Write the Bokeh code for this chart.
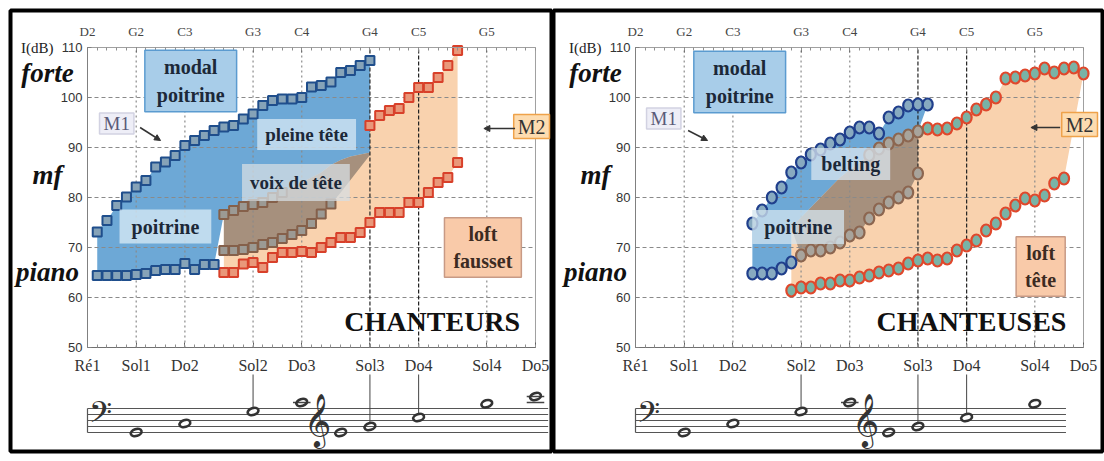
from bokeh.plotting import figure
from bokeh.models import FixedTicker, LinearAxis, Range1d, Label, Arrow, NormalHead
from bokeh.layouts import row
from bokeh.embed import file_html
from bokeh.resources import INLINE
from bokeh.core.properties import value

SERIF = "Liberation Serif"
SANS = "Liberation Sans"

# ---------------- axes / ticks ----------------
X_LO, X_HI = 38, 84
DB_LO, DB_HI = 50, 110
semitone_ticks = list(range(38, 85))
note_ticks = [38, 43, 48, 55, 60, 67, 72, 79, 84]
english_labels = ["D2", "G2", "C3", "G3", "C4", "G4", "C5", "G5"]
french_labels = ["Ré1", "Sol1", "Do2", "Sol2", "Do3", "Sol3", "Do4", "Sol4", "Do5"]
db_ticks = [50, 60, 70, 80, 90, 100, 110]
db_grid = [60, 70, 80, 90, 100]
dotted_grid_notes = [43, 48, 55, 60, 79]
dark_grid_notes = [67, 72]
dyn_names = ["forte", "mf", "piano"]
dyn_db = [105.0, 84.6, 65.2]

# ---------------- CHANTEURS (men) ----------------
men_m1_forte_x = [39, 40, 41, 42, 43, 44, 45, 46, 47, 48, 49, 50, 51, 52, 53, 54, 55, 56, 57, 58, 59, 60, 61, 62, 63, 64, 65, 66, 67]
men_m1_forte_db = [73.1, 75.4, 78.4, 80.1, 82.1, 83.4, 86.1, 87.1, 88.4, 90.4, 91.4, 92.4, 93.4, 94.1, 94.4, 95.7, 96.7, 98.4, 99.4, 99.7, 99.7, 100.0, 102.1, 102.4, 103.1, 105.0, 105.4, 106.4, 107.4]
men_m1_piano_x = [39, 40, 41, 42, 43, 44, 45, 46, 47, 48, 49, 50, 51]
men_m1_piano_db = [64.4, 64.4, 64.4, 64.4, 64.6, 64.8, 65.4, 65.6, 65.6, 66.8, 65.6, 66.6, 66.6]
men_head_hi_x = [52, 53, 54, 55, 56, 57, 58, 59, 60, 61, 62, 63, 64, 65, 66, 67]
men_head_hi_db = [76.6, 77.4, 78.2, 78.6, 79.0, 80.0, 81.0, 82.0, 83.0, 84.0, 85.0, 86.5, 87.5, 88.2, 88.6, 89.0]
men_head_lo_x = [52, 53, 54, 55, 56, 57, 58, 59, 60, 61, 62, 63, 64, 65, 66, 67]
men_head_lo_db = [69.4, 69.4, 69.6, 70.0, 70.6, 71.0, 71.8, 72.6, 73.4, 74.8, 76.7, 78.7, 81.0, 83.5, 86.0, 88.5]
men_m2_piano_x = [52, 53, 54, 55, 56, 57, 58, 59, 60, 61, 62, 63, 64, 65, 66, 67, 68, 69, 70, 71, 72, 73, 74, 75, 76]
men_m2_piano_db = [65.0, 65.0, 66.7, 67.0, 66.0, 68.0, 69.0, 69.0, 69.2, 69.0, 70.0, 71.0, 72.0, 72.0, 73.0, 75.0, 77.0, 77.0, 77.0, 79.0, 79.0, 81.0, 83.0, 84.0, 87.0]
men_m2_forte_x = [67, 68, 69, 70, 71, 72, 73, 74, 75, 76]
men_m2_forte_db = [94.4, 96.4, 97.4, 97.8, 100.0, 102.0, 102.0, 104.0, 106.4, 109.4]

# ---------------- CHANTEUSES (women) ----------------
women_m1_forte_x = [50, 51, 52, 53, 54, 55, 56, 57, 58, 59, 60, 61, 62, 63, 64, 65, 66, 67, 68]
women_m1_forte_db = [74.8, 77.4, 80.0, 82.0, 85.0, 87.0, 88.6, 89.6, 90.8, 91.6, 93.0, 94.0, 94.0, 92.8, 96.0, 97.0, 98.4, 98.6, 98.6]
women_m1_piano_x = [50, 51, 52, 53, 54]
women_m1_piano_db = [64.8, 64.8, 64.8, 65.8, 67.0]
women_mix_hi_x = [54, 55, 56, 57, 58, 59, 60, 61, 62, 63, 64, 65, 66, 67]
women_mix_hi_db = [74.0, 76.0, 78.0, 80.0, 82.0, 84.0, 85.5, 87.0, 88.5, 89.8, 90.8, 91.6, 92.4, 93.2]
women_mix_lo_x = [55, 56, 57, 58, 59, 60, 61, 62, 63, 64, 65, 66, 67]
women_mix_lo_db = [68.4, 69.4, 69.4, 70.0, 71.0, 72.4, 73.0, 75.8, 77.6, 79.0, 80.0, 81.0, 84.8]
women_m2_piano_x = [54, 55, 56, 57, 58, 59, 60, 61, 62, 63, 64, 65, 66, 67, 68, 69, 70, 71, 72, 73, 74, 75, 76, 77, 78, 79, 80, 81, 82]
women_m2_piano_db = [61.4, 62.0, 62.0, 62.8, 62.8, 63.4, 63.4, 64.0, 64.4, 65.0, 65.4, 65.8, 66.8, 67.4, 67.8, 67.4, 67.8, 69.4, 70.4, 71.4, 73.4, 74.8, 76.8, 78.4, 79.8, 79.4, 80.4, 82.8, 83.8]
women_m2_forte_x = [68, 69, 70, 71, 72, 73, 74, 75, 76, 77, 78, 79, 80, 81, 82, 83, 84]
women_m2_forte_db = [93.8, 93.6, 93.8, 94.8, 96.0, 97.6, 98.6, 100.0, 103.8, 104.0, 104.4, 104.8, 105.8, 105.0, 105.8, 106.0, 104.8]

# ---------------- staff (music notation) ----------------
staff_lines = [0, 1, 2, 3, 4]
men_staff_end = 85.3
women_staff_end = 82.2
men_note_x = [43, 48, 55, 60, 64, 67, 72, 79, 84]
men_note_pos = [0.0, 1.5, 3.5, 5.0, 0.0, 1.0, 2.5, 4.8, 6.0]
men_ledger_x = [60, 84, 84]
men_ledger_pos = [5, 5, 6]
women_note_x = [43, 48, 55, 60, 64, 67, 72, 79]
women_note_pos = [0.0, 1.5, 3.5, 5.0, 0.0, 1.0, 2.5, 4.8]
women_ledger_x = [60]
women_ledger_pos = [5]
link_x = [55, 67, 72]
link_pos = [3.5, 1.0, 2.5]
clef_x = [39.3, 61.6]
clef_pos = [2.8, 2.1]
clef_text = ["\U0001D122", "\U0001D11E"]

# layout of the staff inside each panel (in dB units of the panel's y scale)
STAFF_BASE, STAFF_STEP = 33.0, 1.2
LINK_TOP = 44.6


def sy(vals):
    return [STAFF_BASE + STAFF_STEP * v for v in vals]


def build_panel(W, mb_l, mb_r, x_start, x_end):
    p = figure(width=W, height=461, x_range=Range1d(x_start, x_end), y_range=Range1d(29.2, 117.4),
               min_border_left=mb_l, min_border_right=mb_r, min_border_top=10, min_border_bottom=10,
               x_axis_location=None, y_axis_location=None, output_backend="svg", toolbar_location=None)
    p.grid.visible = False
    p.background_fill_color = "white"
    p.border_fill_color = "white"
    p.outline_line_color = "black"
    p.outline_line_width = 4

    ya = LinearAxis(ticker=FixedTicker(ticks=db_ticks), fixed_location=X_LO, bounds=(DB_LO, DB_HI),
                    major_label_text_font=SANS, major_label_text_font_size="13px",
                    major_label_text_color="#333333", axis_line_color="#808080",
                    major_tick_in=4, major_tick_out=0, minor_tick_line_color=None,
                    major_tick_line_color="#808080", major_label_standoff=5)
    p.add_layout(ya, "left")
    top = LinearAxis(ticker=FixedTicker(ticks=note_ticks[:-1], minor_ticks=semitone_ticks),
                     fixed_location=DB_HI, bounds=(X_LO, X_HI),
                     major_label_overrides={t: s for t, s in zip(note_ticks[:-1], english_labels)},
                     major_label_text_font=SERIF, major_label_text_font_size="13px",
                     major_label_text_color="#444444", major_label_standoff=9,
                     major_tick_in=5, major_tick_out=0, minor_tick_in=3, minor_tick_out=0,
                     axis_line_color="#a0a0a0", major_tick_line_color="#707070",
                     minor_tick_line_color="#909090")
    p.add_layout(top, "above")
    bot = LinearAxis(ticker=FixedTicker(ticks=note_ticks, minor_ticks=semitone_ticks),
                     fixed_location=DB_LO, bounds=(X_LO, X_HI),
                     major_label_overrides={t: s for t, s in zip(note_ticks, french_labels)},
                     major_label_text_font=SERIF, major_label_text_font_size="16px",
                     major_label_text_color="#333333", major_label_standoff=9,
                     major_tick_in=5, major_tick_out=0, minor_tick_in=3, minor_tick_out=0,
                     axis_line_color="#707070", major_tick_line_color="#606060",
                     minor_tick_line_color="#909090")
    p.add_layout(bot, "below")

    p.add_layout(Label(x=34.5, y=DB_HI, text="I(dB)", text_font=SERIF, text_font_size="15px",
                       text_color="#222222", text_align="right", text_baseline="middle"))
    for name, yv in zip(dyn_names, dyn_db):
        p.add_layout(Label(x=33.9, y=yv, text=name, text_font=SERIF, text_font_size="27px",
                           text_font_style="bold italic", text_color="#111111",
                           text_align="center", text_baseline="middle"))
    return p


def grid_and_frame(p):
    n = len(db_grid)
    p.segment(x0=[X_LO] * n, y0=db_grid, x1=[X_HI] * n, y1=db_grid,
              line_color="#8a8a8a", line_dash="4 3", line_width=1)
    m = len(dotted_grid_notes)
    p.segment(x0=dotted_grid_notes, y0=[DB_LO] * m, x1=dotted_grid_notes, y1=[DB_HI] * m,
              line_color="#8a8a8a", line_dash="2 3", line_width=1.2)
    k = len(dark_grid_notes)
    p.segment(x0=dark_grid_notes, y0=[DB_LO] * k, x1=dark_grid_notes, y1=[DB_HI] * k,
              line_color="#222222", line_dash="4 2", line_width=1.2)
    p.segment(x0=[X_HI], y0=[DB_LO], x1=[X_HI], y1=[DB_HI], line_color="#a0a0a0", line_width=1)


def box_label(p, x, y, text, fill, alpha=1.0, border=None, color="#1c2838", size="20px",
              style="bold", pad=(8, 4), lh=1.2):
    p.add_layout(Label(x=x, y=y, text=text, text_font=SERIF, text_font_size=size, text_font_style=style,
                       text_color=color, text_align="center", text_baseline="middle", text_line_height=lh,
                       background_fill_color=fill, background_fill_alpha=alpha,
                       border_line_color=border, border_line_width=1.5, padding=pad))


def arrow(p, xs, ys, xe, ye):
    p.add_layout(Arrow(x_start=xs, y_start=ys, x_end=xe, y_end=ye, line_color="#333333", line_width=1.5,
                       end=NormalHead(size=6, fill_color="#333333", line_color="#333333")))


def draw_staff(p, staff_end, nx, npos, lx, lpos):
    ns = len(staff_lines)
    p.segment(x0=[X_LO] * ns, y0=sy(staff_lines), x1=[staff_end] * ns, y1=sy(staff_lines),
              line_color="#555555", line_width=1)
    p.segment(x0=[X_LO], y0=sy(staff_lines[:1]), x1=[X_LO], y1=sy(staff_lines[-1:]),
              line_color="#555555", line_width=1.2)
    p.segment(x0=[v - 0.9 for v in lx], y0=sy(lpos), x1=[v + 0.9 for v in lx], y1=sy(lpos),
              line_color="#444444", line_width=1.3)
    p.segment(x0=link_x, y0=[LINK_TOP] * len(link_x), x1=link_x, y1=sy([v + 0.6 for v in link_pos]),
              line_color="#444444", line_width=1)
    p.ellipse(x=nx, y=sy(npos), width=11, height=7, width_units="screen", height_units="screen", angle=0.3,
              fill_color=None, line_color="#333333", line_width=2.6)
    p.text(x=clef_x[:1], y=sy(clef_pos[:1]), text=clef_text[:1], text_font=value("DejaVu Sans"),
           text_font_size="36px", text_align="center", text_baseline="middle", text_color="#333333")
    p.text(x=clef_x[1:], y=sy(clef_pos[1:]), text=clef_text[1:], text_font=value("DejaVu Sans"),
           text_font_size="46px", text_align="center", text_baseline="middle", text_color="#333333")


# ======================= LEFT PANEL =======================
p1 = build_panel(552, 10, 1, 30.094, 85.643)
p1.patch(men_m2_piano_x + men_m2_forte_x[::-1] + men_head_hi_x[::-1],
         men_m2_piano_db + men_m2_forte_db[::-1] + men_head_hi_db[::-1],
         fill_color="#f9d2ae", fill_alpha=1.0, line_color=None)
p1.patch(men_m1_forte_x + men_head_hi_x[::-1] + men_m1_piano_x[::-1],
         men_m1_forte_db + men_head_hi_db[::-1] + men_m1_piano_db[::-1],
         fill_color="#5d9fd2", fill_alpha=0.9, line_color=None)
p1.patch(men_head_hi_x + men_head_lo_x[::-1], men_head_hi_db + men_head_lo_db[::-1],
         fill_color="#8a7a6c", fill_alpha=0.75, line_color=None)
grid_and_frame(p1)
sq = dict(marker="square", size=9, line_width=2)
p1.scatter(men_m2_piano_x, men_m2_piano_db, fill_color="#e9987a", line_color="#d8402a", **sq)
p1.scatter(men_m2_forte_x, men_m2_forte_db, fill_color="#e9987a", line_color="#d8402a", **sq)
p1.scatter(men_head_lo_x[:12], men_head_lo_db[:12], fill_color="#9c9a94", line_color="#85604a", **sq)
p1.scatter(men_head_hi_x[:7], men_head_hi_db[:7], fill_color="#9c9a94", line_color="#85604a", **sq)
p1.scatter(men_m1_forte_x, men_m1_forte_db, fill_color="#86a3b8", line_color="#1f4e8c", **sq)
p1.scatter(men_m1_piano_x, men_m1_piano_db, fill_color="#86a3b8", line_color="#1f4e8c", **sq)
draw_staff(p1, men_staff_end, men_note_x, men_note_pos, men_ledger_x, men_ledger_pos)

box_label(p1, 48.6, 103.3, "modal\npoitrine", "#a8cde9", 1.0, "#5b9bd0", pad=(12, 6), lh=1.25)
box_label(p1, 41.0, 94.8, "M1", "#eeeef7", 1.0, "#d2d2e2", color="#5a5a78", size="19px", style="normal", pad=(4, 0))
box_label(p1, 60.5, 92.6, "pleine tête", "#cfe4f2", 0.8, None, size="19px", pad=(8, 5))
box_label(p1, 59.4, 83.0, "voix de tête", "#d5dde3", 0.75, None, size="19px", pad=(8, 8))
box_label(p1, 46.0, 74.2, "poitrine", "#d3e7f4", 0.8, None, pad=(12, 6))
box_label(p1, 78.6, 70.0, "loft\nfausset", "#f9caa9", 1.0, "#c89a85", color="#3c2b22", pad=(9, 5), lh=1.25)
box_label(p1, 83.6, 94.2, "M2", "#fddcb0", 1.0, "#efa24a", color="#333333", size="20px", style="normal", pad=(4, 1))
p1.add_layout(Label(x=73.4, y=55.2, text="CHANTEURS", text_font=SERIF, text_font_size="28px",
                    text_font_style="bold", text_color="#111111", text_align="center", text_baseline="middle"))
arrow(p1, 43.4, 94.0, 45.5, 91.4)
arrow(p1, 81.9, 93.8, 78.7, 93.8)

# ======================= RIGHT PANEL =======================
p2 = build_panel(552, 1, 2, 29.58, 85.95)
p2.patch(women_m2_piano_x + women_m2_forte_x[::-1] + women_mix_hi_x[::-1],
         women_m2_piano_db + women_m2_forte_db[::-1] + women_mix_hi_db[::-1],
         fill_color="#f9d2ae", fill_alpha=1.0, line_color=None)
p2.patch(women_m1_forte_x + women_mix_hi_x[::-1] + women_m1_piano_x[::-1],
         women_m1_forte_db + women_mix_hi_db[::-1] + women_m1_piano_db[::-1],
         fill_color="#5d9fd2", fill_alpha=0.9, line_color=None)
p2.patch(women_mix_hi_x + women_mix_lo_x[::-1], women_mix_hi_db + women_mix_lo_db[::-1],
         fill_color="#8a7a6c", fill_alpha=0.75, line_color=None)
grid_and_frame(p2)
circ = dict(width=10, height=12, width_units="screen", height_units="screen", line_width=2.2)
p2.ellipse(women_m2_piano_x, women_m2_piano_db, fill_color="#79b3a6", line_color="#e0482c", **circ)
p2.ellipse(women_m2_forte_x, women_m2_forte_db, fill_color="#79b3a6", line_color="#e0482c", **circ)
p2.ellipse(women_mix_lo_x, women_mix_lo_db, fill_color="#a8a49c", line_color="#8c6650", **circ)
p2.ellipse(women_mix_hi_x[8:], women_mix_hi_db[8:], fill_color="#a8a49c", line_color="#8c6650", **circ)
p2.ellipse(women_m1_forte_x, women_m1_forte_db, fill_color="#88aac0", line_color="#203f8c", **circ)
p2.ellipse(women_m1_piano_x, women_m1_piano_db, fill_color="#88aac0", line_color="#203f8c", **circ)
draw_staff(p2, women_staff_end, women_note_x, women_note_pos, women_ledger_x, women_ledger_pos)

box_label(p2, 48.7, 103.1, "modal\npoitrine", "#a8cde9", 1.0, "#5b9bd0", pad=(12, 6), lh=1.25)
box_label(p2, 40.9, 95.8, "M1", "#eeeef7", 1.0, "#d2d2e2", color="#5a5a78", size="19px", style="normal", pad=(4, 0))
box_label(p2, 60.1, 86.7, "belting", "#d9e6ef", 0.75, None, pad=(10, 5))
box_label(p2, 54.7, 74.1, "poitrine", "#d3e4ef", 0.75, None, pad=(12, 6))
box_label(p2, 79.6, 66.2, "loft\ntête", "#f9caa9", 1.0, "#c89a85", color="#3c2b22", pad=(9, 5), lh=1.25)
box_label(p2, 83.6, 94.6, "M2", "#fddcb0", 1.0, "#efa24a", color="#333333", size="20px", style="normal", pad=(4, 1))
p2.add_layout(Label(x=72.5, y=55.2, text="CHANTEUSES", text_font=SERIF, text_font_size="28px",
                    text_font_style="bold", text_color="#111111", text_align="center", text_baseline="middle"))
arrow(p2, 43.4, 93.4, 45.4, 91.4)
arrow(p2, 81.6, 94.0, 78.6, 94.0)

layout = row(p1, p2)
open("out.html", "w").write(file_html(layout, INLINE))
